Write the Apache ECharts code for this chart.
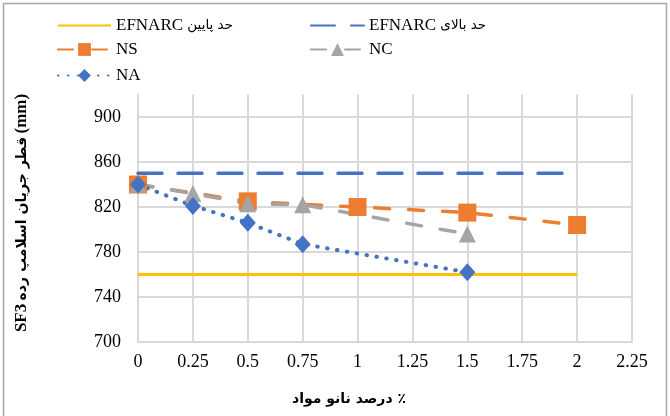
<!DOCTYPE html>
<html><head><meta charset="utf-8">
<script src="https://cdn.jsdelivr.net/npm/echarts@6/dist/echarts.min.js"></script>
<style>html,body{margin:0;padding:0;background:#fff}#c{width:670px;height:416px}</style>
</head><body><div id="c"></div>
<script>
// ---- data ----
const seriesNames = ['EFNARC حد پایین', 'EFNARC حد بالای', 'NS', 'NC', 'NA'];
const lowerX = [0, 2];
const lowerY = [760, 760];
const upperX = [0, 2];
const upperY = [850, 850];
const nsX = [0, 0.5, 1, 1.5, 2];
const nsY = [840, 825, 820, 815, 804];
const ncX = [0, 0.25, 0.5, 0.75, 1.5];
const ncY = [840, 832, 823, 822, 796];
const naX = [0, 0.25, 0.5, 0.75, 1.5];
const naY = [840, 821, 806, 787, 762];
const yTitleLatin1 = 'SF3';
const yTitlePersian = 'قطر جریان اسلامپ رده';
const yTitleLatin2 = '(mm)';
const xAxisTitle = 'درصد نانو مواد ٪';

const pairs = (xs, ys) => xs.map((x, i) => [x, ys[i]]);
const FONT = '"Liberation Serif", "DejaVu Sans", serif';
const PFONT = '"DejaVu Sans", sans-serif';

const chart = echarts.init(document.getElementById('c'), null, {renderer: 'canvas'});

function legendAt(name, left, top, hideSymbol) {
  const l = {
    data: [name], left: left, top: top, padding: 0,
    itemWidth: 53, itemHeight: 16, itemGap: 0,
    textStyle: {fontFamily: FONT, fontSize: 17, color: '#000',
      rich: {
        a: {fontFamily: FONT, fontSize: 17, color: '#000'},
        p: {fontFamily: PFONT, fontSize: 13.5, color: '#000'}
      }},
    formatter: n => {
      const i = n.indexOf(' ');
      if (n.startsWith('EFNARC')) return '{a|' + n.slice(0, i) + '} {p|' + n.slice(i + 1) + '}';
      return '{a|' + n + '}';
    }
  };
  if (hideSymbol) l.itemStyle = {opacity: 0};
  return l;
}

const option = {
  animation: false,
  backgroundColor: '#fff',
  graphic: [
    {type: 'rect', shape: {x: 3.5, y: 3.5, width: 663, height: 430}, style: {fill: 'none', stroke: '#a6a6a6', lineWidth: 1.5}, silent: true},
    {type: 'text', x: 22, y: 213, rotation: Math.PI / 2,
     style: {text: '{a|' + yTitleLatin1 + '} {p|' + yTitlePersian + '} {a|' + yTitleLatin2 + '}',
       align: 'center', verticalAlign: 'middle',
       rich: {
         a: {fontFamily: FONT, fontWeight: 'bold', fontSize: 17, fill: '#000', color: '#000'},
         p: {fontFamily: PFONT, fontWeight: 'bold', fontSize: 14, fill: '#000', color: '#000'}
       }}},
    {type: 'text', x: 349, y: 399,
     style: {text: xAxisTitle, fontFamily: PFONT, fontWeight: 'bold', fontSize: 14, fill: '#000', align: 'center', verticalAlign: 'middle'}}
  ],
  legend: [
    legendAt(seriesNames[0], 57, 17, true),
    legendAt(seriesNames[1], 310, 17, true),
    legendAt(seriesNames[2], 57, 41, false),
    legendAt(seriesNames[3], 310, 41, false),
    legendAt(seriesNames[4], 57, 67, false)
  ],
  grid: {left: 138, right: 38, top: 94.5, bottom: 74, containLabel: false},
  xAxis: {
    type: 'value', min: 0, max: 2.25, interval: 0.25,
    axisLine: {show: true, lineStyle: {color: '#d9d9d9', width: 2}},
    axisTick: {show: false},
    splitLine: {show: true, lineStyle: {color: '#d9d9d9', width: 2}},
    axisLabel: {fontFamily: FONT, fontSize: 18, color: '#000', margin: 11}
  },
  yAxis: {
    type: 'value', min: 700, max: 920, interval: 40,
    axisLine: {show: true, lineStyle: {color: '#d9d9d9', width: 2}},
    axisTick: {show: false},
    splitLine: {show: true, showMaxLine: false, lineStyle: {color: '#d9d9d9', width: 2}},
    axisLabel: {fontFamily: FONT, fontSize: 18, color: '#000', margin: 17, showMaxLabel: false,
      formatter: v => (v > 900 ? '' : String(v))}
  },
  series: [
    {name: seriesNames[0], type: 'line', data: pairs(lowerX, lowerY), symbol: 'none',
     lineStyle: {color: '#FFC000', width: 3}, itemStyle: {color: '#FFC000'}},
    {name: seriesNames[1], type: 'line', data: pairs(upperX, upperY), symbol: 'none',
     lineStyle: {color: '#4472C4', width: 3.5, type: [24, 16], cap: 'round'}, itemStyle: {color: '#4472C4'}},
    {name: seriesNames[2], type: 'line', data: pairs(nsX, nsY), symbol: 'rect', symbolSize: 18,
     lineStyle: {color: '#ED7D31', width: 3.5, type: [15, 19], cap: 'round'}, itemStyle: {color: '#ED7D31'}},
    {name: seriesNames[3], type: 'line', data: pairs(ncX, ncY), symbol: 'triangle', symbolSize: 17,
     lineStyle: {color: '#A5A5A5', width: 3.5, type: [15, 19], cap: 'round'}, itemStyle: {color: '#A5A5A5'}},
    {name: seriesNames[4], type: 'line', data: pairs(naX, naY), symbol: 'diamond', symbolSize: [16, 18],
     lineStyle: {color: '#4472C4', width: 4, type: [0.5, 9.5], cap: 'round'}, itemStyle: {color: '#4472C4'}}
  ]
};
chart.setOption(option);
</script>
</body></html>
